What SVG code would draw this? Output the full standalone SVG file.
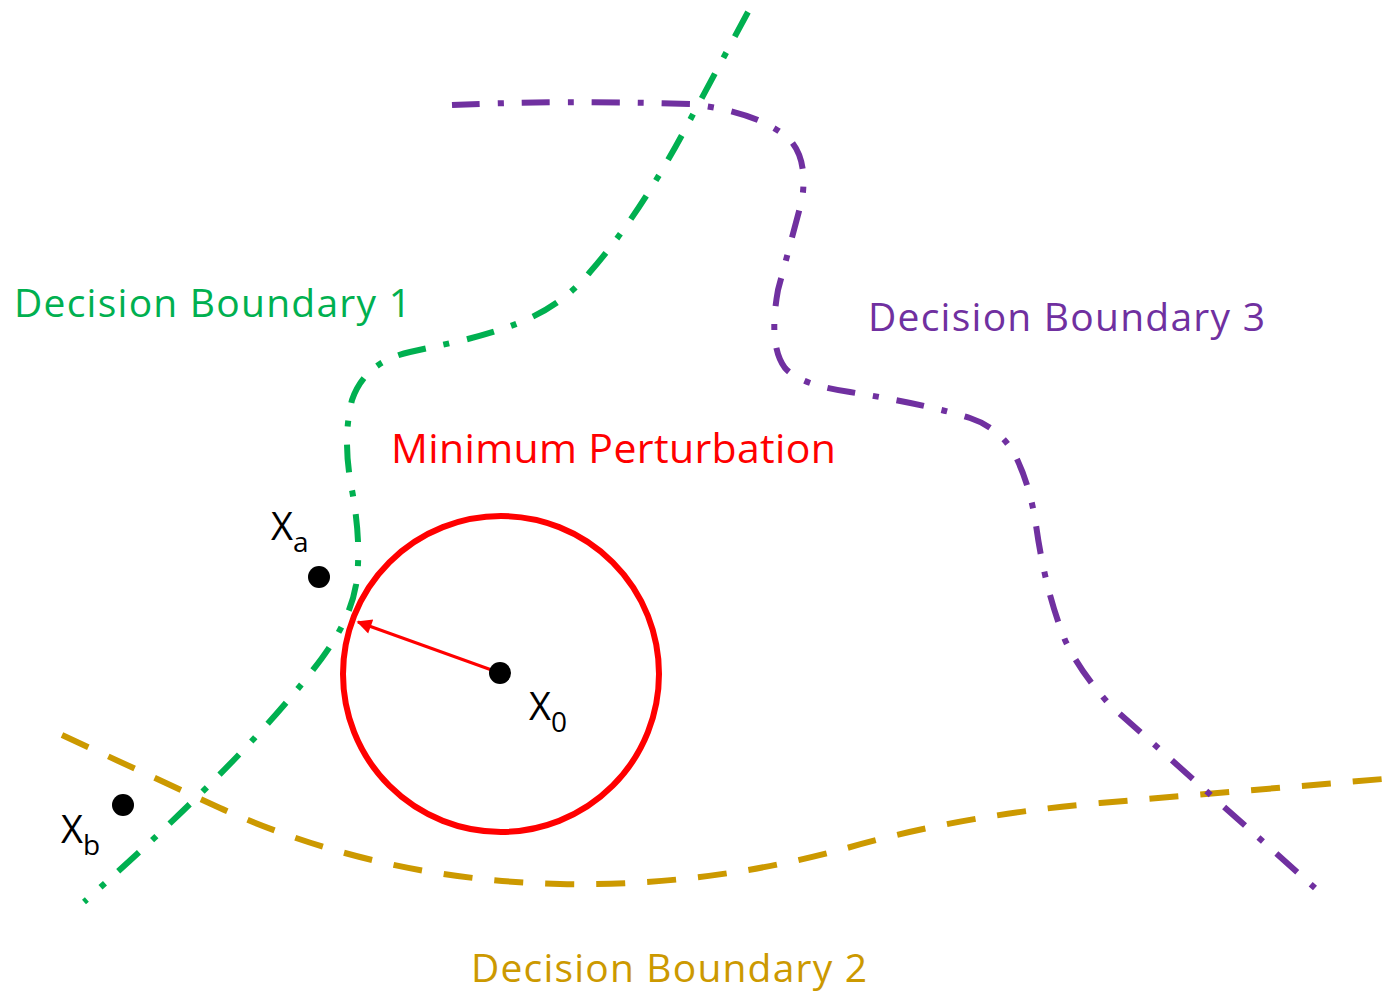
<svg xmlns="http://www.w3.org/2000/svg" width="1395" height="991" viewBox="0 0 1395 991">
<style>
.b{fill:none;stroke-width:6;stroke-linecap:butt}
.dd{stroke-dasharray:28 18 6 18}
.lbl{font-family:"Open Sans","Liberation Sans",sans-serif}
.x{font-family:"Open Sans","Liberation Sans",sans-serif;fill:#000}
</style>
<defs>
<marker id="ah" viewBox="0 0 10 10" refX="9" refY="5" markerWidth="6" markerHeight="5" markerUnits="strokeWidth" orient="auto">
<path d="M0,0 L10,5 L0,10 Z" fill="#ff0000"/>
</marker>
</defs>
<rect width="1395" height="991" fill="#fff"/>
<g id="connectors">
<path id="boundary2" class="b" stroke="#cc9900" stroke-width="7" stroke-dasharray="29 22" d="M62,735 L220,808 Q380,880 560,884 Q700,887 840,850 Q960,815 1100,803 L1395,778"/>
<path id="boundary1" class="b dd" stroke="#00b050" d="M748,12 L690,120 Q640,215 590,272 Q565,302 530,318 Q505,330 460,341 L410,352 Q365,362 352,400 Q342,440 352,490 Q362,545 356,585 Q350,620 322,658 Q250,755 84,902"/>
<path id="boundary3" class="b dd" stroke="#7030a0" d="M452,105 Q560,100 690,104 Q760,112 790,140 Q808,160 802,200 L778,290 Q768,345 785,368 Q800,385 850,392 Q930,405 970,418 Q1000,428 1015,455 Q1030,485 1036,525 Q1045,590 1065,640 Q1080,672 1110,705 L1315,888"/>
<line id="perturbation-arrow" x1="500" y1="673" x2="358" y2="622" stroke="#ff0000" stroke-width="3" marker-end="url(#ah)"/>
</g>
<g id="circle">
<circle cx="501" cy="674" r="158" fill="none" stroke="#ff0000" stroke-width="6"/>
</g>
<g id="x0">
<circle cx="500" cy="673" r="11" fill="#000"/>
<text class="x" x="529" y="720" font-size="38">X<tspan font-size="28" dy="12">0</tspan></text>
</g>
<g id="xa">
<circle cx="319" cy="577" r="11" fill="#000"/>
<text class="x" x="271" y="540" font-size="38">X<tspan font-size="28" dy="12">a</tspan></text>
</g>
<g id="xb">
<circle cx="123" cy="805" r="11" fill="#000"/>
<text class="x" x="61" y="843" font-size="38">X<tspan font-size="28" dy="12">b</tspan></text>
</g>
<g id="label1">
<text class="lbl" x="14" y="317" font-size="39" fill="#00b050" textLength="397">Decision Boundary 1</text>
</g>
<g id="label3">
<text class="lbl" x="868" y="331" font-size="39" fill="#7030a0" textLength="397">Decision Boundary 3</text>
</g>
<g id="label2">
<text class="lbl" x="471" y="982" font-size="39" fill="#cc9900" textLength="396">Decision Boundary 2</text>
</g>
<g id="label-min">
<text class="lbl" x="391" y="463" font-size="41" fill="#ff0000" textLength="445">Minimum Perturbation</text>
</g>
</svg>
